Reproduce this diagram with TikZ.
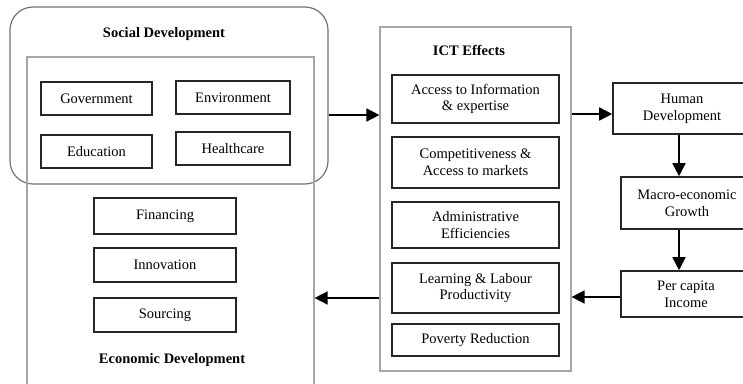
\documentclass[tikz,border=0pt]{standalone}
\usepackage{fontspec}
\setmainfont{Liberation Serif}
\usetikzlibrary{arrows.meta}
\begin{document}
\begin{tikzpicture}[x=1pt,y=-1pt,
	box/.style={draw=black!85,line width=1.6pt,align=center,inner sep=0pt,font=\fontsize{14.5}{16.7}\selectfont},
	grp/.style={draw=black!35,line width=1.2pt,inner sep=0pt},
	ttl/.style={font=\fontsize{14.5}{16.7}\selectfont\bfseries},
	arr/.style={line width=1.6pt,-{Triangle[length=13pt,width=13pt]}}]
	\clip (0,0) rectangle (743,383);
	\node[grp,draw=black!55,rounded corners=23pt,minimum width=318pt,minimum height=177pt] (soc) at (169,95.5) {};
	\node[grp,minimum width=287pt,minimum height=343pt] (eco) at (170.5,228.5) {};
	\node[grp,minimum width=191pt,minimum height=344pt] (ict) at (475.5,199) {};
	\node[ttl] (soct) at (164,34) {Social Development};
	\node[ttl] (ecot) at (172,360) {Economic Development};
	\node[ttl] (ictt) at (469,50) {ICT Effects};
	\node[box,minimum width=111pt,minimum height=33pt] (gov) at (96.5,98.5) {Government};
	\node[box,minimum width=114pt,minimum height=33pt] (env) at (233,97.5) {Environment};
	\node[box,minimum width=111pt,minimum height=33pt] (edu) at (96.5,151.5) {Education};
	\node[box,minimum width=114pt,minimum height=33pt] (hlt) at (233,148.5) {Healthcare};
	\node[box,minimum width=142pt,minimum height=36pt] (fin) at (165,216) {Financing};
	\node[box,minimum width=142pt,minimum height=34pt] (inn) at (165,265) {Innovation};
	\node[box,minimum width=142pt,minimum height=34pt] (src) at (165,315) {Sourcing};
	\node[box,minimum width=167pt,minimum height=48pt] (acc) at (475.5,99) {Access to Information\\\& expertise};
	\node[box,minimum width=167pt,minimum height=51pt] (cmp) at (475.5,162.5) {Competitiveness \&\\Access to markets};
	\node[box,minimum width=167pt,minimum height=46pt] (adm) at (475.5,225) {Administrative\\Efficiencies};
	\node[box,minimum width=167pt,minimum height=50pt] (lrn) at (475.5,288) {Learning \& Labour\\Productivity};
	\node[box,minimum width=167pt,minimum height=32pt] (pov) at (475.5,340) {Poverty Reduction};
	\node[box,minimum width=138pt,minimum height=51pt] (hd) at (682,108.5) {Human\\Development};
	\node[box,minimum width=132pt,minimum height=52pt] (mg) at (687,203) {Macro-economic\\Growth};
	\node[box,minimum width=130pt,minimum height=46pt] (pc) at (686,294) {Per capita\\Income};
	\draw[arr] (soc.east|-0,115) -- (ict.west|-0,115);
	\draw[arr] (ict.east|-0,114) -- (hd.west|-0,114);
	\draw[arr] (hd.south-|679,0) -- (mg.north-|679,0);
	\draw[arr] (mg.south-|679,0) -- (pc.north-|679,0);
	\draw[arr] (pc.west|-0,297) -- (ict.east|-0,297);
	\draw[arr] (ict.west|-0,298) -- (eco.east|-0,298);
\end{tikzpicture}
\end{document}
